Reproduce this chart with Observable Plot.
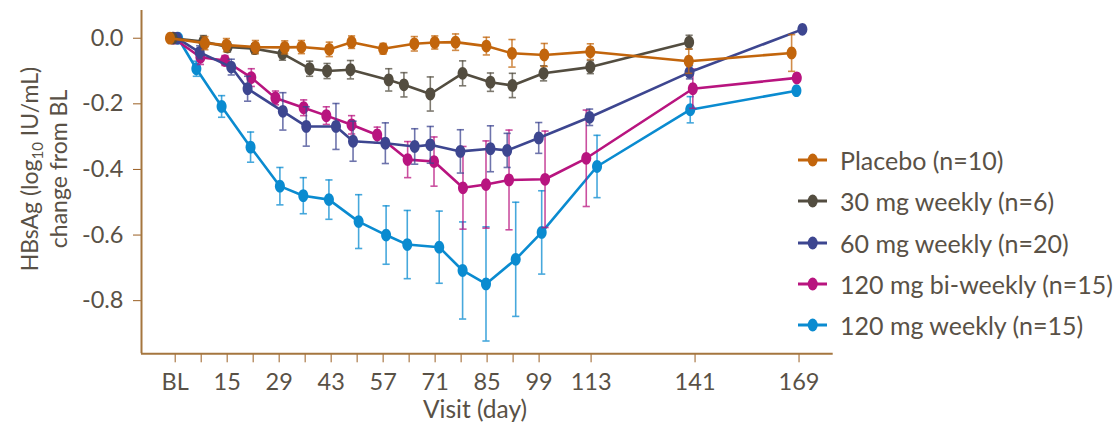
<!DOCTYPE html>
<html><head><meta charset="utf-8">
<script src="https://cdn.jsdelivr.net/npm/d3@7"></script>
<script src="https://cdn.jsdelivr.net/npm/@observablehq/plot@0.6"></script>
<style>
html,body{margin:0;padding:0;background:#fff;}
#wrap{position:relative;width:1113px;height:426px;font-family:Lato,sans-serif;color:#595146;}
#legend{position:absolute;left:796px;top:139.5px;}
.item{height:41.3px;display:flex;align-items:center;white-space:nowrap;font-size:25px;}
.item svg{flex:none;}
</style></head><body><div id="wrap"></div>
<script>
// ---- data ----
const seriesNames = ["Placebo (n=10)", "30 mg weekly (n=6)", "60 mg weekly (n=20)", "120 mg bi-weekly (n=15)", "120 mg weekly (n=15)"];
const seriesColors = ["#c2650c", "#534d40", "#3d4690", "#b8147f", "#0a8bd0"];

const placeboDay = [-0.4, 9.0, 14.8, 22.6, 30.5, 35.0, 42.5, 48.5, 57.0, 65.4, 70.9, 76.5, 84.8, 91.7, 100.4, 112.8, 139.3, 167.0];
const placeboVal = [0, -0.015, -0.021, -0.027, -0.028, -0.027, -0.034, -0.012, -0.032, -0.017, -0.013, -0.012, -0.024, -0.046, -0.051, -0.041, -0.070, -0.045];
const placeboErr = [0, 0.02, 0.02, 0.02, 0.02, 0.02, 0.022, 0.019, 0.016, 0.022, 0.02, 0.025, 0.027, 0.042, 0.035, 0.024, 0.037, 0.056];

const mg30Day = [0.3, 8.6, 15.1, 22.4, 29.9, 37.2, 41.9, 48.2, 58.5, 62.6, 69.7, 78.4, 85.9, 91.8, 100.2, 112.8, 139.4];
const mg30Val = [0, -0.010, -0.027, -0.032, -0.047, -0.093, -0.100, -0.096, -0.127, -0.142, -0.170, -0.107, -0.134, -0.144, -0.107, -0.088, -0.012];
const mg30Err = [0, 0.018, 0.015, 0.015, 0.02, 0.023, 0.023, 0.028, 0.034, 0.037, 0.052, 0.038, 0.028, 0.037, 0.023, 0.02, 0.021];

const mg60Day = [1.5, 7.6, 16.1, 20.5, 30.0, 36.3, 44.3, 48.9, 57.6, 65.5, 69.7, 77.8, 85.9, 90.4, 98.9, 112.6, 139.5, 169.9];
const mg60Val = [0, -0.043, -0.088, -0.154, -0.223, -0.269, -0.269, -0.314, -0.320, -0.330, -0.325, -0.345, -0.337, -0.342, -0.304, -0.241, -0.104, 0.027];
const mg60Err = [0, 0.02, 0.024, 0.038, 0.057, 0.06, 0.07, 0.061, 0.062, 0.054, 0.056, 0.066, 0.07, 0.052, 0.047, 0.025, 0.02, 0];

const mg120bwDay = [0.6, 7.8, 14.4, 21.5, 28.0, 35.6, 41.7, 48.5, 55.4, 63.6, 70.7, 78.5, 84.7, 90.9, 100.6, 111.7, 140.4, 168.4];
const mg120bwVal = [0, -0.058, -0.068, -0.120, -0.182, -0.212, -0.236, -0.264, -0.295, -0.370, -0.376, -0.456, -0.446, -0.432, -0.430, -0.366, -0.154, -0.121];
const mg120bwErr = [0, 0.022, 0.015, 0.027, 0.021, 0.024, 0.027, 0.028, 0.024, 0.055, 0.075, 0.126, 0.133, 0.152, 0.147, 0.147, 0.06, 0];

const mg120wDay = [1.8, 6.7, 13.5, 21.3, 29.2, 35.5, 42.4, 50.4, 57.8, 63.5, 72.1, 78.4, 84.7, 92.7, 99.7, 114.6, 139.7, 168.3];
const mg120wVal = [0, -0.093, -0.208, -0.332, -0.451, -0.480, -0.492, -0.559, -0.600, -0.629, -0.637, -0.708, -0.749, -0.674, -0.592, -0.391, -0.218, -0.160];
const mg120wErr = [0, 0.023, 0.033, 0.046, 0.057, 0.055, 0.06, 0.082, 0.089, 0.104, 0.11, 0.148, 0.174, 0.174, 0.127, 0.095, 0.04, 0];

const xTickDays = [1, 8, 15, 22, 29, 36, 43, 50, 57, 64, 71, 78, 85, 92, 99, 113, 141, 169];
const xLabelDays = [1, 15, 29, 43, 57, 71, 85, 99, 113, 141, 169];
const xLabelText = ["BL", "15", "29", "43", "57", "71", "85", "99", "113", "141", "169"];
const yTickVals = [0, -0.2, -0.4, -0.6, -0.8];
const yTickText = ["0.0", "-0.2", "-0.4", "-0.6", "-0.8"];

// ---- build table ----
const seriesArrays = [
  [placeboDay, placeboVal, placeboErr],
  [mg30Day, mg30Val, mg30Err],
  [mg60Day, mg60Val, mg60Err],
  [mg120bwDay, mg120bwVal, mg120bwErr],
  [mg120wDay, mg120wVal, mg120wErr]
];
const tables = seriesArrays.map(([d, v, e], i) => d.map((day, j) => ({
  series: seriesNames[i], day, val: v[j], err: e[j], lo: v[j] - e[j], hi: v[j] + e[j]
})));

// custom symbols
const K = 0.5523;
const ellipse = {draw(ctx, size) {
  const r = Math.sqrt(size / Math.PI), rx = r * 0.78, ry = r;
  ctx.moveTo(rx, 0);
  ctx.bezierCurveTo(rx, K * ry, K * rx, ry, 0, ry);
  ctx.bezierCurveTo(-K * rx, ry, -rx, K * ry, -rx, 0);
  ctx.bezierCurveTo(-rx, -K * ry, -K * rx, -ry, 0, -ry);
  ctx.bezierCurveTo(K * rx, -ry, rx, -K * ry, rx, 0);
  ctx.closePath();
}};
const cap = {draw(ctx, size) {
  const r = Math.sqrt(size / Math.PI);
  ctx.moveTo(-r, 0); ctx.lineTo(r, 0);
}};

const axisColor = "#a5763f", tickColor = "#9a5e22", textColor = "#595146";
const xDomain = [-8.07, 178.2], yDomain = [-0.962, 0.0845];

const marks = [];
[4, 3, 2, 1, 0].forEach(i => {
  const data = tables[i], color = seriesColors[i];
  const bars = data.filter(d => d.err > 0);
  marks.push(
    Plot.ruleX(bars, {x: "day", y1: "lo", y2: "hi", stroke: color, strokeWidth: 1.6, strokeOpacity: 0.75}),
    Plot.dot(bars, {x: "day", y: "hi", symbol: cap, r: 3.6, stroke: color, strokeWidth: 1.6, strokeOpacity: 0.75, fill: "none"}),
    Plot.dot(bars, {x: "day", y: "lo", symbol: cap, r: 3.6, stroke: color, strokeWidth: 1.6, strokeOpacity: 0.75, fill: "none"}),
    Plot.line(data, {x: "day", y: "val", stroke: color, strokeWidth: 2.6}),
    Plot.dot(data, {x: "day", y: "val", symbol: ellipse, r: 6.4, fill: color, stroke: "none"})
  );
});

const labelMap = new Map(xLabelDays.map((d, i) => [d, xLabelText[i]]));
const yLabelMap = new Map(yTickVals.map((d, i) => [d, yTickText[i]]));

const plot = Plot.plot({
  width: 1113, height: 426,
  marginLeft: 141, marginRight: 280.3, marginTop: 10, marginBottom: 72.7,
  style: {fontFamily: "Lato, sans-serif", background: "#fff", color: textColor},
  x: {domain: xDomain},
  y: {domain: yDomain},
  marks: [
    Plot.axisX({ticks: xTickDays, tickFormat: d => labelMap.get(d) ?? "", tickSize: 9, tickPadding: 11,
      stroke: tickColor, fill: textColor, fontSize: 23.5, label: null}),
    Plot.axisY({ticks: yTickVals, tickFormat: d => yLabelMap.get(d) ?? "", tickSize: 8, tickPadding: 10,
      stroke: tickColor, fill: textColor, fontSize: 23.5, label: null}),
    Plot.ruleX([xDomain[0]], {stroke: axisColor, strokeWidth: 2}),
    Plot.ruleY([yDomain[0]], {stroke: axisColor, strokeWidth: 2}),
    ...marks
  ]
});

const wrap = document.getElementById("wrap");
wrap.appendChild(plot);

// axis titles
const svg = d3.select(plot);
const t1 = svg.append("text").attr("transform", "translate(38,169) rotate(-90)")
  .attr("text-anchor", "middle").attr("fill", textColor).attr("font-size", 23);
t1.append("tspan").text("HBsAg (log");
t1.append("tspan").attr("font-size", 15).attr("dy", 5).text("10");
t1.append("tspan").attr("dy", -5).text(" IU/mL)");
svg.append("text").attr("transform", "translate(67,169) rotate(-90)")
  .attr("text-anchor", "middle").attr("fill", textColor).attr("font-size", 23).text("change from BL");
svg.append("text").attr("x", 475).attr("y", 418).attr("text-anchor", "middle")
  .attr("fill", textColor).attr("font-size", 24.5).text("Visit (day)");

// legend
const legend = document.createElement("div");
legend.id = "legend";
seriesNames.forEach((name, i) => {
  const item = document.createElement("div");
  item.className = "item";
  item.innerHTML = `<svg width="44" height="20"><line x1="2" x2="31" y1="10" y2="10" stroke="${seriesColors[i]}" stroke-width="3"/><ellipse cx="16.7" cy="10" rx="5" ry="6.5" fill="${seriesColors[i]}"/></svg><span>${name}</span>`;
  legend.appendChild(item);
});
wrap.appendChild(legend);
</script></body></html>
